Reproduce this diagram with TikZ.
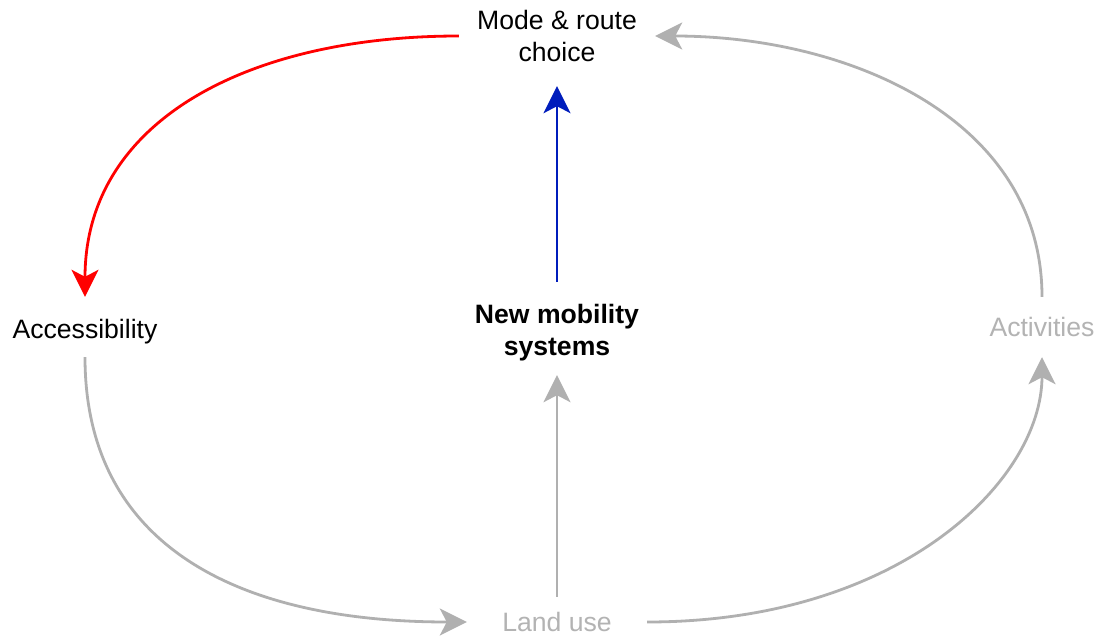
\documentclass[tikz,border=0pt]{standalone}
\usepackage{fontspec}
\setmainfont{Liberation Sans}
\usetikzlibrary{arrows.meta}
\definecolor{edgegray}{HTML}{B0B0B0}
\definecolor{textgray}{HTML}{B3B3B3}
\definecolor{darkblue}{HTML}{001DBC}
\definecolor{pure red}{HTML}{FF0000}
\begin{document}
\begin{tikzpicture}[x=1pt,y=-1pt,
  label text/.style={inner sep=0pt, align=center, font=\fontsize{26.6}{32}\selectfont},
  tip/.style={-{Stealth[length=27pt,width=27pt,inset=7pt]}},
  link/.style={tip, line width=2.8pt, draw=#1},
]
\useasboundingbox[fill=white] (0,0) rectangle (1099,639);
% nodes
\node[label text, minimum width=196pt, minimum height=100pt] (mode) at (557,36) {Mode \& route\\choice};
\node[label text, text height=23pt, text depth=0pt, minimum width=146pt, minimum height=60pt] (acc) at (85,327) {Accessibility};
\node[label text, font=\fontsize{26.6}{32}\selectfont\bfseries, text height=55.5pt, text depth=1.5pt, minimum height=93pt] (nms) at (557,328.5) {New mobility\\systems};
\node[label text, text=textgray, minimum width=106pt, minimum height=60pt] (act) at (1042,327) {Activities};
\node[label text, text=textgray, minimum width=180pt, minimum height=50pt] (land) at (557,622) {Land use};
% connectors
\draw[link=pure red] (mode.west) .. controls +(-209,0) and +(0,-177) .. (acc.north);
\draw[link=darkblue] (nms.north) -- (mode.south);
\draw[link=edgegray] (acc.south) .. controls +(0,183) and +(-237,0) .. (land.west);
\draw[link=edgegray] (land.north) -- (nms.south);
\draw[link=edgegray] (land.east) .. controls +(253,0) and +(0,123) .. (act.south);
\draw[link=edgegray] (act.north) .. controls +(0,-177) and +(195,0) .. (mode.east);
\end{tikzpicture}
\end{document}
